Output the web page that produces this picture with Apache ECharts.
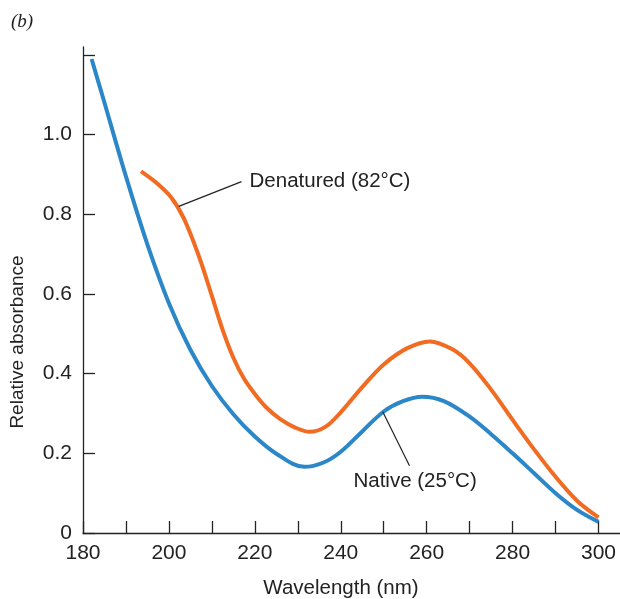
<!DOCTYPE html>
<html>
<head>
<meta charset="utf-8">
<script src="https://cdn.jsdelivr.net/npm/echarts@6/dist/echarts.min.js"></script>
<style>
html,body{margin:0;padding:0;background:#fff;}
#c{width:620px;height:599px;}
</style>
</head>
<body>
<div id="c"></div>
<script>
// ---- data ----
var nativeX = [182,185,190,195,200,205,210,215,220,225,231.5,236,240,245,250,254.5,259,264,270,275,280,285,290,295,300];
var nativeY = [1.19,1.08,0.895,0.724,0.577,0.46,0.369,0.298,0.242,0.199,0.166,0.177,0.204,0.255,0.305,0.331,0.342,0.331,0.292,0.248,0.2,0.15,0.1,0.058,0.028];
var denatX = [193.5,197,200.5,203.5,207,210,212.5,215,217.5,220,222.5,226,229.5,232.8,236.5,240,245,250,255.5,260.7,266,270,275,280,285,290,295,300];
var denatY = [0.908,0.88,0.843,0.789,0.694,0.595,0.51,0.44,0.387,0.349,0.317,0.285,0.264,0.254,0.267,0.303,0.366,0.423,0.464,0.481,0.461,0.426,0.36,0.284,0.21,0.141,0.081,0.039];
var xTicks = [180,190,200,210,220,230,240,250,260,270,280,290,300];
var xLabels = [180,200,220,240,260,280,300];
var yTicks = [0,0.2,0.4,0.6,0.8,1.0,1.2];
var yLabels = [0,0.2,0.4,0.6,0.8,1.0];
var denatLabel = 'Denatured (82°C)';
var nativeLabel = 'Native (25°C)';
var denatLeader = [[202.3,0.82],[216.9,0.882]];
var nativeLeader = [[249.8,0.304],[256.0,0.169]];
var nativeLabelPos = [257.3,0.13];

function pairs(xs, ys){ return xs.map(function(x,i){return [x, ys[i]];}); }

var FONT = 'Liberation Sans';
var TXT = '#222';
var chart = echarts.init(document.getElementById('c'), null, {renderer:'canvas'});
chart.setOption({
  animation:false,
  backgroundColor:'#fff',
  grid:{left:83, right:0, top:47, bottom:66, containLabel:false},
  xAxis:{
    type:'value', min:180, max:305,
    axisLine:{show:true, lineStyle:{color:'#222', width:1.3}},
    axisTick:{show:true, inside:true, length:12, customValues:xTicks, lineStyle:{color:'#222', width:1.3}},
    axisLabel:{customValues:xLabels, margin:10, fontSize:21, fontFamily:FONT, color:TXT},
    splitLine:{show:false}
  },
  yAxis:{
    type:'value', min:0, max:1.22,
    axisLine:{show:true, lineStyle:{color:'#222', width:1.3}},
    axisTick:{show:true, inside:true, length:12, customValues:yTicks, lineStyle:{color:'#222', width:1.3}},
    axisLabel:{customValues:yLabels, margin:11, fontSize:21, fontFamily:FONT, color:TXT,
      formatter:function(v){ return v===0 ? '0' : v.toFixed(1); }},
    splitLine:{show:false}
  },
  graphic:[
    {type:'text', left:11, top:12, style:{text:'(b)', font:'italic 19px "Liberation Serif"', fill:TXT}},
    {type:'text', x:341, y:588, style:{text:'Wavelength (nm)', font:'20.5px "'+FONT+'"', fill:TXT, align:'center', verticalAlign:'middle'}},
    {type:'text', x:18, y:342, rotation:Math.PI/2, style:{text:'Relative absorbance', font:'19px "'+FONT+'"', fill:TXT, align:'center', verticalAlign:'middle'}}
  ],
  series:[
    {
      type:'line', name:'Native', data:pairs(nativeX,nativeY), smooth:0.35, showSymbol:false, symbol:'none',
      lineStyle:{color:'#2b87c8', width:4, cap:'butt', join:'round'},
      markLine:{silent:true, symbol:'none', label:{show:false},
        lineStyle:{color:'#222', width:1.2, type:'solid'},
        data:[[{coord:nativeLeader[0]},{coord:nativeLeader[1]}]]},
      markPoint:{silent:true, symbol:'circle', symbolSize:0,
        label:{show:true, position:'inside', formatter:nativeLabel, fontSize:20.5, fontFamily:FONT, color:TXT},
        data:[{coord:nativeLabelPos}]}
    },
    {
      type:'line', name:'Denatured', data:pairs(denatX,denatY), smooth:0.35, showSymbol:false, symbol:'none',
      lineStyle:{color:'#f26b22', width:4, cap:'butt', join:'round'},
      markLine:{silent:true, symbol:'none', label:{show:false},
        lineStyle:{color:'#222', width:1.2, type:'solid'},
        data:[[{coord:denatLeader[0]},{coord:denatLeader[1]}]]},
      markPoint:{silent:true, symbol:'circle', symbolSize:0,
        label:{show:true, position:'right', distance:8, formatter:denatLabel, fontSize:20.5, fontFamily:FONT, color:TXT},
        data:[{coord:denatLeader[1]}]}
    }
  ]
});
</script>
</body>
</html>
